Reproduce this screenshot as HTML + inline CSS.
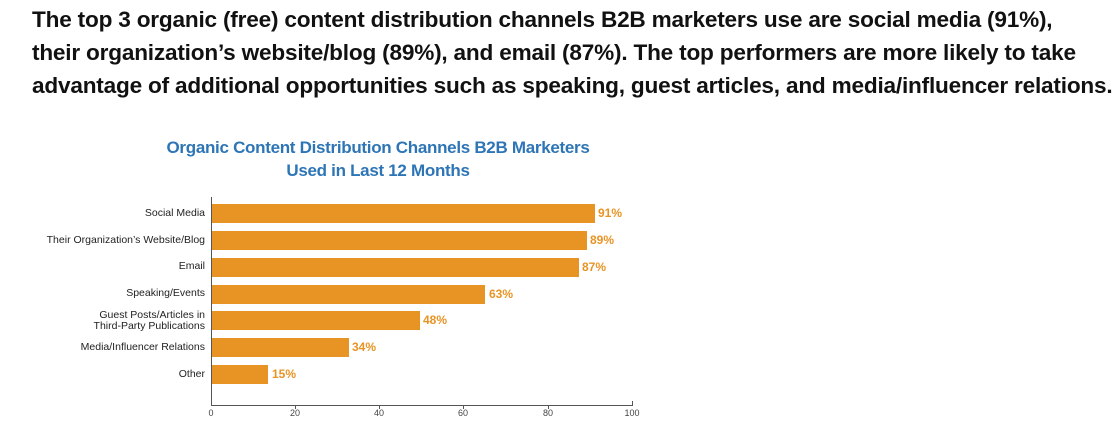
<!DOCTYPE html>
<html><head><meta charset="utf-8"><style>
body{margin:0;width:1117px;height:433px;background:#fff;position:relative;overflow:hidden;font-family:"Liberation Sans",sans-serif}
.h{position:absolute;left:32px;font-weight:bold;font-size:22.6px;color:#111;white-space:nowrap;letter-spacing:-0.2px}
.t{position:absolute;left:130px;width:496px;text-align:center;font-weight:bold;font-size:17px;color:#2e75b6;line-height:23px;top:136px;letter-spacing:-0.3px}
.lab{position:absolute;right:912px;font-size:10.5px;color:#222;text-align:right;line-height:11px}
.bar{position:absolute;left:212px;height:19px;background:#e89424}
.v{position:absolute;font-size:12px;font-weight:bold;color:#e89424}
.tk{position:absolute;top:408px;font-size:9px;color:#444;width:30px;text-align:center}
</style></head><body>
<div class="h" style="top:7px">The top 3 organic (free) content distribution channels B2B marketers use are social media (91%),</div>
<div class="h" style="top:40px">their organization’s website/blog (89%), and email (87%). The top performers are more likely to take</div>
<div class="h" style="top:73px">advantage of additional opportunities such as speaking, guest articles, and media/influencer relations.</div>
<div class="t">Organic Content Distribution Channels B2B Marketers<br>Used in Last 12 Months</div>
<div style="position:absolute;left:211px;top:197px;width:1px;height:209px;background:#555"></div>
<div style="position:absolute;left:211px;top:405px;width:422px;height:1px;background:#555"></div>
<div style="position:absolute;left:295px;top:405px;width:1px;height:4px;background:#555"></div>
<div style="position:absolute;left:379px;top:405px;width:1px;height:4px;background:#555"></div>
<div style="position:absolute;left:463px;top:405px;width:1px;height:4px;background:#555"></div>
<div style="position:absolute;left:548px;top:405px;width:1px;height:4px;background:#555"></div>
<div style="position:absolute;left:632px;top:401px;width:1px;height:5px;background:#555"></div>
<div class="tk" style="left:196px">0</div><div class="tk" style="left:280px">20</div><div class="tk" style="left:364px">40</div><div class="tk" style="left:448px">60</div><div class="tk" style="left:533px">80</div><div class="tk" style="left:617px">100</div>

<div class="bar" style="top:204px;width:383px"></div><div class="v" style="top:206px;left:598px">91%</div><div class="lab" style="top:208px">Social Media</div>
<div class="bar" style="top:231px;width:375px"></div><div class="v" style="top:233px;left:590px">89%</div><div class="lab" style="top:235px">Their Organization’s Website/Blog</div>
<div class="bar" style="top:258px;width:367px"></div><div class="v" style="top:260px;left:582px">87%</div><div class="lab" style="top:261px">Email</div>
<div class="bar" style="top:285px;width:273px"></div><div class="v" style="top:287px;left:489px">63%</div><div class="lab" style="top:288px">Speaking/Events</div>
<div class="bar" style="top:311px;width:208px"></div><div class="v" style="top:313px;left:423px">48%</div><div class="lab" style="top:310px">Guest Posts/Articles in<br>Third-Party Publications</div>
<div class="bar" style="top:338px;width:137px"></div><div class="v" style="top:340px;left:352px">34%</div><div class="lab" style="top:342px">Media/Influencer Relations</div>
<div class="bar" style="top:365px;width:56px"></div><div class="v" style="top:367px;left:272px">15%</div><div class="lab" style="top:369px">Other</div>
</body></html>
